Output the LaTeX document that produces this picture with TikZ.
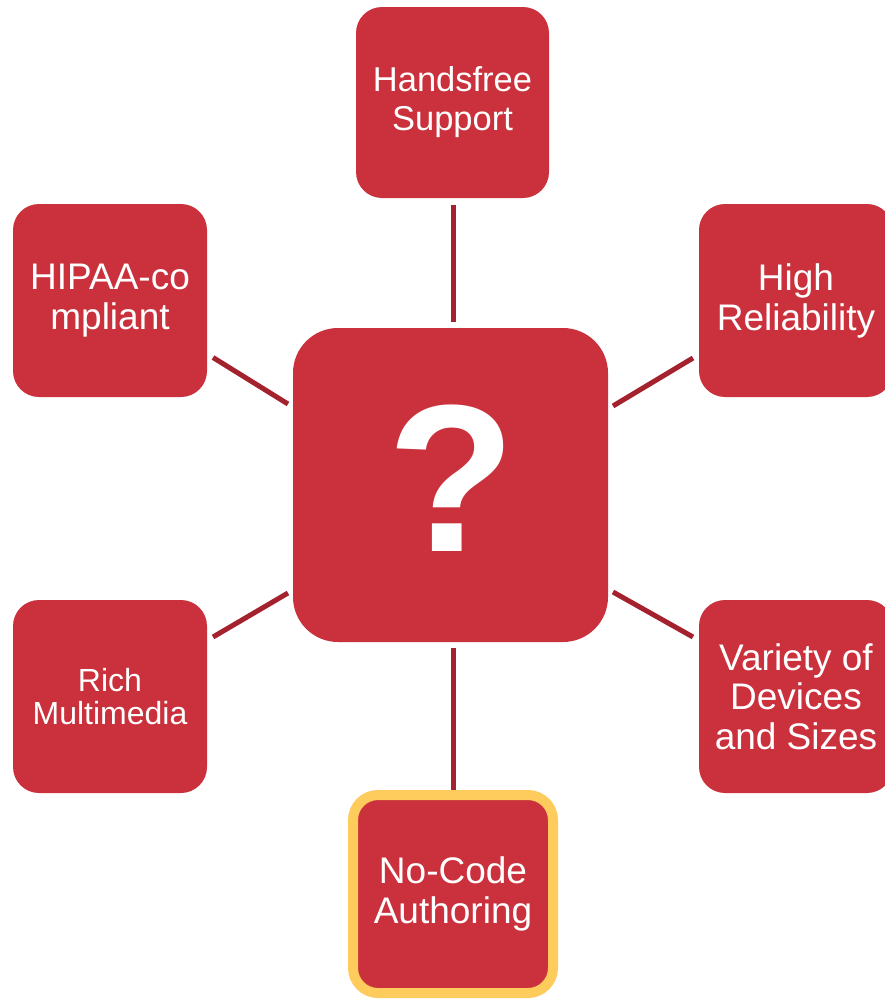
\documentclass[tikz,border=0pt]{standalone}
\usepackage{fontspec}
\setmainfont{Liberation Sans}
\usetikzlibrary{calc}
\definecolor{boxred}{HTML}{CA313C}
\definecolor{linkred}{HTML}{A3222E}
\definecolor{gold}{HTML}{FECC5C}

\begin{document}
\begin{tikzpicture}[x=1pt,y=-1pt,
    box/.style={fill=boxred,rounded corners=26pt,minimum width=194pt,minimum height=193pt,
      inner sep=0pt,outer sep=0pt,text=white,align=center,font=\fontsize{37}{40}\selectfont},
    link/.style={draw=linkred,line width=5pt}]
      \useasboundingbox (0,0) rectangle (885,999);
      \clip (0,0) rectangle (885,999);
      \node[box,minimum width=315pt,minimum height=314pt,rounded corners=45pt,
        font=\fontsize{210}{210}\bfseries\selectfont] (q) at (450.5,485) {\hspace*{3pt}\raisebox{-66pt}[0pt][0pt]{?}};
      \node[box,minimum width=193pt,minimum height=191pt,font=\fontsize{34.5}{39}\selectfont]
        (hf) at (452.5,102.5) {Handsfree\\Support};
      \node[box] (hipaa) at (110,300.5) {HIPAA-co\\mpliant};
      \node[box] (rel) at (796,300.5) {High\\Reliability};
      \node[box,font=\fontsize{32}{33}\selectfont] (rich) at (110,696.5) {Rich\\Multimedia};
      \node[box,font=\fontsize{37}{39.5}\selectfont] (var) at (796,696.5) {Variety of\\Devices\\and Sizes};
      \node[box,draw=gold,line width=10pt,minimum width=200pt,minimum height=198pt,
        rounded corners=25pt] (nc) at (453,894) {No-Code\\Authoring};
      \draw[link] ($(hf.south)+(0.5,7)$) -- ($(q.north)+(2.5,-6)$);
      \draw[link] ($(q.south)+(2.5,6)$) -- ($(nc.north)+(0,-5)$);
      \draw[link] ($(hipaa.east)+(6,57)$) -- ($(q.west)+(-5,-81)$);
      \draw[link] ($(q.east)+(5,-79)$) -- ($(rel.west)+(-6,57.5)$);
      \draw[link] ($(rich.east)+(6,-59.5)$) -- ($(q.west)+(-5,108)$);
      \draw[link] ($(q.east)+(5,107)$) -- ($(var.west)+(-6,-59.5)$);
    \end{tikzpicture}
\end{document}
